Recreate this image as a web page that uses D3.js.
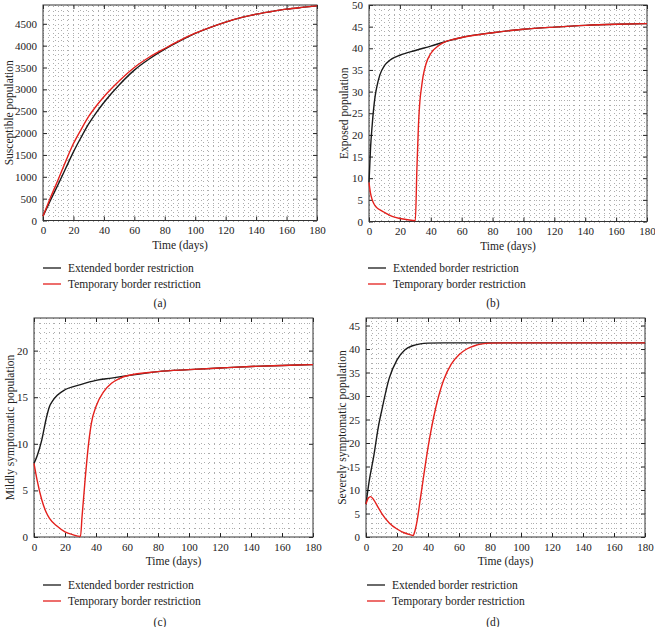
<!DOCTYPE html>
<html><head><meta charset="utf-8">
<script src="https://cdn.jsdelivr.net/npm/d3@7"></script>
<style>
html,body{margin:0;padding:0;background:#fff;}
svg{display:block;font-family:"Liberation Serif","DejaVu Serif",serif;}
</style></head>
<body><svg id="c" width="655" height="627"></svg>
<script>
// ---------- data ----------
const seriesNames = ["Extended border restriction", "Temporary border restriction"];
const xTicks = [0,20,40,60,80,100,120,140,160,180];

// (a) Susceptible
const tA = [0,5,10,15,20,25,30,35,40,50,60,70,80,90,100,110,120,130,140,150,160,170,180];
const susExtended  = [100,470,830,1200,1570,1900,2210,2470,2700,3100,3440,3700,3920,4110,4280,4420,4540,4640,4720,4780,4835,4875,4910];
const susTemporary = [100,530,940,1360,1760,2080,2380,2620,2830,3190,3500,3740,3935,4120,4285,4420,4540,4640,4720,4780,4835,4875,4910];
const ticksA = [0,500,1000,1500,2000,2500,3000,3500,4000,4500];

// (b) Exposed
const tBext = [0,1,2,3,4,5,7,10,12,15,20,30,40,50,60,80,100,120,140,160,180];
const expExtended = [9,17,22,26,29,31,33.8,36,36.8,37.6,38.4,39.5,40.5,41.6,42.5,43.6,44.4,44.9,45.3,45.55,45.7];
const tBtmp = [0,1,2,3,5,8,10,15,20,25,30,31,32,33,34,35,37,40,45,50,55,60,80,100,120,140,160,180];
const expTemporary = [9,6.5,5.1,4.2,3.2,2.5,2.1,1.2,0.7,0.4,0.2,12,22,28,31,33.5,36.5,38.8,40.6,41.6,42.1,42.5,43.6,44.4,44.9,45.3,45.55,45.7];
const ticksB = [0,5,10,15,20,25,30,35,40,45,50];

// (c) Mildly symptomatic
const tCext = [0,2,5,8,10,12,15,20,30,40,50,60,80,100,120,140,160,180];
const mildExtended = [7.9,8.7,10.4,12.8,14.0,14.6,15.2,15.8,16.35,16.8,17.05,17.3,17.75,17.96,18.14,18.3,18.4,18.5];
const tCtmp = [0,2,5,8,10,15,20,25,30,31,33,35,37,40,45,50,55,60,80,100,120,140,160,180];
const mildTemporary = [7.9,6.1,4.0,2.6,2.0,1.15,0.55,0.25,0.07,2.2,6.2,9.7,12.2,14.0,15.6,16.5,17.0,17.3,17.75,17.96,18.14,18.3,18.4,18.5];
const ticksC = [0,5,10,15,20];

// (d) Severely symptomatic
const tDext = [0,2,5,8,10,15,20,25,30,35,40,50,60,80,100,120,140,160,180];
const sevExtended = [7,11.8,17.2,23.5,26.7,33.8,37.7,39.8,40.7,41.1,41.25,41.3,41.3,41.3,41.3,41.3,41.3,41.3,41.3];
const tDtmp = [0,1.5,3,5,8,10,15,20,25,30,30.5,31,33,35,37,40,45,50,55,60,65,70,75,80,90,100,120,140,160,180];
const sevTemporary = [7,8.3,8.6,7.9,6.2,5.1,3.0,1.7,0.85,0.35,0.3,0.7,3.5,8,12.5,19,27.5,33.3,36.8,38.8,40.0,40.7,41.1,41.25,41.3,41.3,41.3,41.3,41.3,41.3];
const ticksD = [0,5,10,15,20,25,30,35,40,45];

const yLabels = ["Susceptible population","Exposed population","Mildly symptomatic population","Severely symptomatic population"];
const captions = ["(a)","(b)","(c)","(d)"];

// ---------- layout ----------
const panels = [
  {box:[43,317,5,220.5], ymax:4930, yticks:ticksA, yminor:100, lines:[[tA,susExtended],[tA,susTemporary]], ylabX:9, legX:43, legY:268, capX:160, capY:303, label:yLabels[0], cap:captions[0]},
  {box:[369,647,5,221.5], ymax:50, yticks:ticksB, yminor:1, lines:[[tBext,expExtended],[tBtmp,expTemporary]], ylabX:344, legX:368, legY:268, capX:493, capY:303, label:yLabels[1], cap:captions[1]},
  {box:[34,313,318,537], ymax:23.5, yticks:ticksC, yminor:1, lines:[[tCext,mildExtended],[tCtmp,mildTemporary]], ylabX:10, legX:43, legY:585, capX:160, capY:622, label:yLabels[2], cap:captions[2]},
  {box:[366,645,318,537], ymax:46.6, yticks:ticksD, yminor:1, lines:[[tDext,sevExtended],[tDtmp,sevTemporary]], ylabX:342, legX:367, legY:585, capX:493, capY:622, label:yLabels[3], cap:captions[3]}
];
const colors = ["#1a1a1a","#e4201c"];
const svg = d3.select("#c");

panels.forEach(p=>{
  const [x0,x1,y0,y1] = p.box;
  const x = d3.scaleLinear().domain([0,180]).range([x0,x1]);
  const y = d3.scaleLinear().domain([0,p.ymax]).range([y1,y0]);
  const g = svg.append("g");
  // grid (dotted)
  const xm = d3.range(0,181,4);
  const ym = d3.range(0,p.ymax+1e-9,p.yminor);
  g.append("g").selectAll("line").data(xm).join("line")
    .attr("x1",d=>Math.round(x(d))+0.5).attr("x2",d=>Math.round(x(d))+0.5)
    .attr("y1",y0).attr("y2",y1)
    .attr("stroke","#8a8a8a").attr("stroke-width",0.7).attr("stroke-dasharray","1,4");
  g.append("g").selectAll("line").data(ym).join("line")
    .attr("y1",d=>Math.round(y(d))+0.5).attr("y2",d=>Math.round(y(d))+0.5)
    .attr("x1",x0).attr("x2",x1)
    .attr("stroke","#8a8a8a").attr("stroke-width",0.7).attr("stroke-dasharray","1,4");
  // axes
  const fs = "11px";
  const ax = g.append("g").attr("transform",`translate(0,${y1})`)
    .call(d3.axisBottom(x).tickValues(xTicks).tickSize(-4).tickPadding(6));
  const ay = g.append("g").attr("transform",`translate(${x0},0)`)
    .call(d3.axisLeft(y).tickValues(p.yticks).tickSize(-4).tickPadding(6).tickFormat(d3.format("d")));
  const axT = g.append("g").attr("transform",`translate(0,${y0})`)
    .call(d3.axisTop(x).tickValues(xTicks).tickSize(-4).tickFormat(""));
  const ayR = g.append("g").attr("transform",`translate(${x1},0)`)
    .call(d3.axisRight(y).tickValues(p.yticks).tickSize(-4).tickFormat(""));
  [ax,ay,axT,ayR].forEach(a=>{
    a.select(".domain").remove();
    a.selectAll("line").attr("stroke","#222");
    a.selectAll("text").attr("font-size",fs).attr("fill","#222").attr("font-family","Liberation Serif, serif");
  });
  // frame
  g.append("rect").attr("x",x0).attr("y",y0).attr("width",x1-x0).attr("height",y1-y0)
    .attr("fill","none").attr("stroke","#333").attr("stroke-width",1);
  // lines
  const line = d3.line().x(d=>x(d[0])).y(d=>y(d[1])).curve(d3.curveMonotoneX);
  p.lines.forEach((s,i)=>{
    const pts = s[0].map((t,k)=>[t,s[1][k]]);
    g.append("path").attr("d",line(pts)).attr("fill","none").attr("stroke",colors[i]).attr("stroke-width",1.4);
  });
  // labels
  g.append("text").attr("x",(x0+x1)/2).attr("y",y1+28).attr("text-anchor","middle")
    .attr("font-size","11.5px").attr("fill","#222").text("Time (days)");
  g.append("text").attr("transform",`translate(${p.ylabX},${(y0+y1)/2}) rotate(-90)`)
    .attr("text-anchor","middle").attr("dominant-baseline","central")
    .attr("font-size","11.5px").attr("fill","#222").text(p.label);
  // legend
  seriesNames.forEach((n,i)=>{
    const yy = p.legY + i*16;
    g.append("line").attr("x1",p.legX).attr("x2",p.legX+18).attr("y1",yy).attr("y2",yy)
      .attr("stroke",colors[i]).attr("stroke-width",1.3);
    g.append("text").attr("x",p.legX+25).attr("y",yy).attr("dominant-baseline","central")
      .attr("font-size","11.5px").attr("fill","#222").text(n);
  });
  g.append("text").attr("x",p.capX).attr("y",p.capY).attr("text-anchor","middle").attr("dominant-baseline","central")
    .attr("font-size","11.5px").attr("fill","#222").text(p.cap);
});
</script></body></html>
